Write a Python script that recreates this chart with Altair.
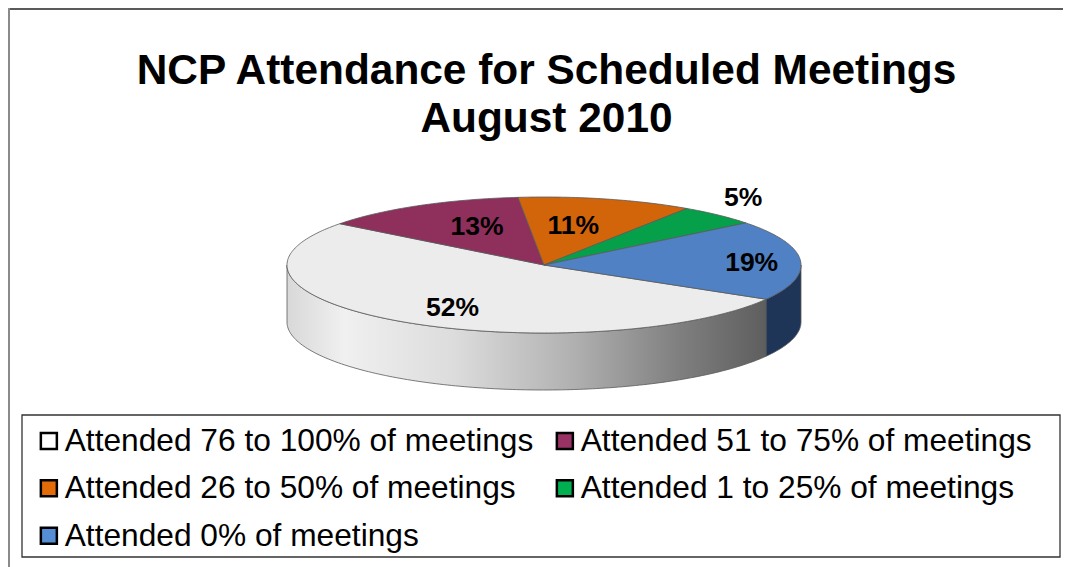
import numpy as np
import altair as alt

title_lines = ["NCP Attendance for Scheduled Meetings", "August 2010"]
categories = ["Attended 76 to 100% of meetings", "Attended 51 to 75% of meetings",
              "Attended 26 to 50% of meetings", "Attended 1 to 25% of meetings",
              "Attended 0% of meetings"]
values = [52, 13, 11, 5, 19]
face_colors = ["#ececec", "#8e2f5c", "#d2640a", "#06a04a", "#4f81c4"]
legend_colors = ["#ffffff", "#993366", "#e36c09", "#00b050", "#558ed5"]
label_rx = [0.64, 0.535, 0.47, 1.14, 0.81]
label_ry = [0.76, 0.64, 0.59, 1.35, 0.42]

W, H = 1055, 559
cx, cy, rx, ry, depth = 536.0, 257.0, 257.0, 68.0, 57.0
first_angle = -30.2


def rim(deg, dy=0.0):
    t = np.radians(deg)
    return [float(cx + rx * np.cos(t)), float(cy - ry * np.sin(t) + dy)]


def arc(a, b, dy=0.0):
    n = max(2, int(abs(b - a)) + 2)
    return [rim(d, dy) for d in np.linspace(a, b, n)]


def feature(ring, **props):
    return {"type": "Feature", "properties": props,
            "geometry": {"type": "Polygon", "coordinates": [ring + [ring[0]]]}}


edges = [first_angle]
for v in values:
    edges.append(edges[-1] - v * 3.6)

faces, text_rows = [], []
for i, v in enumerate(values):
    a, b = edges[i], edges[i + 1]
    faces.append(feature([[cx, cy]] + arc(a, b), face=face_colors[i], cat=categories[i]))
    m = np.radians((a + b) / 2)
    text_rows.append({"label": f"{v}%",
                      "lx": float(cx + label_rx[i] * rx * np.cos(m)),
                      "ly": float(cy - label_ry[i] * ry * np.sin(m))})

side_white = feature(arc(-180, first_angle) + arc(first_angle, -180, depth))
side_blue = feature(arc(first_angle, 0) + arc(0, first_angle, depth))

projection = alt.Projection(type="identity", scale=1, translate=[0, 0])
edge = dict(stroke="#5a5a5a", strokeWidth=0.8)

wall_gradient = alt.Gradient(
    gradient="linear", x1=0, x2=1, y1=0, y2=0,
    stops=[alt.GradientStop(offset=0, color="#d8d8d8"),
           alt.GradientStop(offset=0.12, color="#f0f0f0"),
           alt.GradientStop(offset=0.35, color="#dcdcdc"),
           alt.GradientStop(offset=0.6, color="#b0b0b0"),
           alt.GradientStop(offset=0.82, color="#7f7f7f"),
           alt.GradientStop(offset=1, color="#5e5e5e")])

wall1 = alt.Chart(alt.Data(values=[side_white])).mark_geoshape(fill=wall_gradient, **edge).project(**projection.to_dict())
wall2 = alt.Chart(alt.Data(values=[side_blue])).mark_geoshape(fill="#1f3557", **edge).project(**projection.to_dict())
top = alt.Chart(alt.Data(values=faces)).mark_geoshape(**edge).encode(
    fill=alt.Fill("properties.face:N", scale=None, legend=None)
).project(**projection.to_dict())

labels = alt.Chart(alt.Data(values=text_rows)).mark_text(
    font="Liberation Sans", fontWeight="bold", fontSize=26.5, color="black"
).encode(x=alt.X("lx:Q", scale=None), y=alt.Y("ly:Q", scale=None), text="label:N")

legend_rows = [{"cat": c} for c in categories]
legend_layer = alt.Chart(alt.Data(values=legend_rows)).mark_square(size=0).encode(
    x=alt.value(0), y=alt.value(0),
    color=alt.Color("cat:N", scale=alt.Scale(domain=categories, range=legend_colors),
                    sort=categories,
                    legend=alt.Legend(title=None, orient="none", legendX=25, legendY=417,
                                      direction="horizontal",
                                      columns=2, columnPadding=15, rowPadding=14.4,
                                      gridAlign="all", symbolType="square", symbolSize=256,
                                      symbolStrokeColor="black", symbolStrokeWidth=2.5,
                                      symbolOpacity=1, labelOpacity=1,
                                      labelFont="Liberation Sans", labelFontSize=31.7,
                                      labelColor="black", labelLimit=600, labelOffset=0,
                                      padding=0))
)

box = alt.Chart(alt.Data(values=[{"a": 1}])).mark_rect(
    fillOpacity=0, fill="white", stroke="#333333", strokeWidth=1.3
).encode(x=alt.value(14), x2=alt.value(1052), y=alt.value(407), y2=alt.value(549))

frame_top = alt.Chart(alt.Data(values=[{"a": 1}])).mark_rule(color="#5a5a5a", strokeWidth=2).encode(
    x=alt.value(0), x2=alt.value(W), y=alt.value(1))
frame_left = alt.Chart(alt.Data(values=[{"a": 1}])).mark_rule(color="#8a8a8a", strokeWidth=2).encode(
    x=alt.value(1), y=alt.value(0), y2=alt.value(H))

chart = alt.layer(frame_top, frame_left, wall1, wall2, top, labels, box, legend_layer).properties(
    width=W, height=H,
    title=alt.TitleParams(title_lines, anchor="middle", orient="top", offset=-134,
                          font="Liberation Sans", fontWeight="bold", fontSize=42.4,
                          color="black", lineHeight=48, dx=11),
    autosize=alt.AutoSizeParams(type="none"), padding=0,
).configure_view(stroke=None).configure(background="white")

chart.save("out.html", embed_options={"renderer": "svg", "actions": False})
